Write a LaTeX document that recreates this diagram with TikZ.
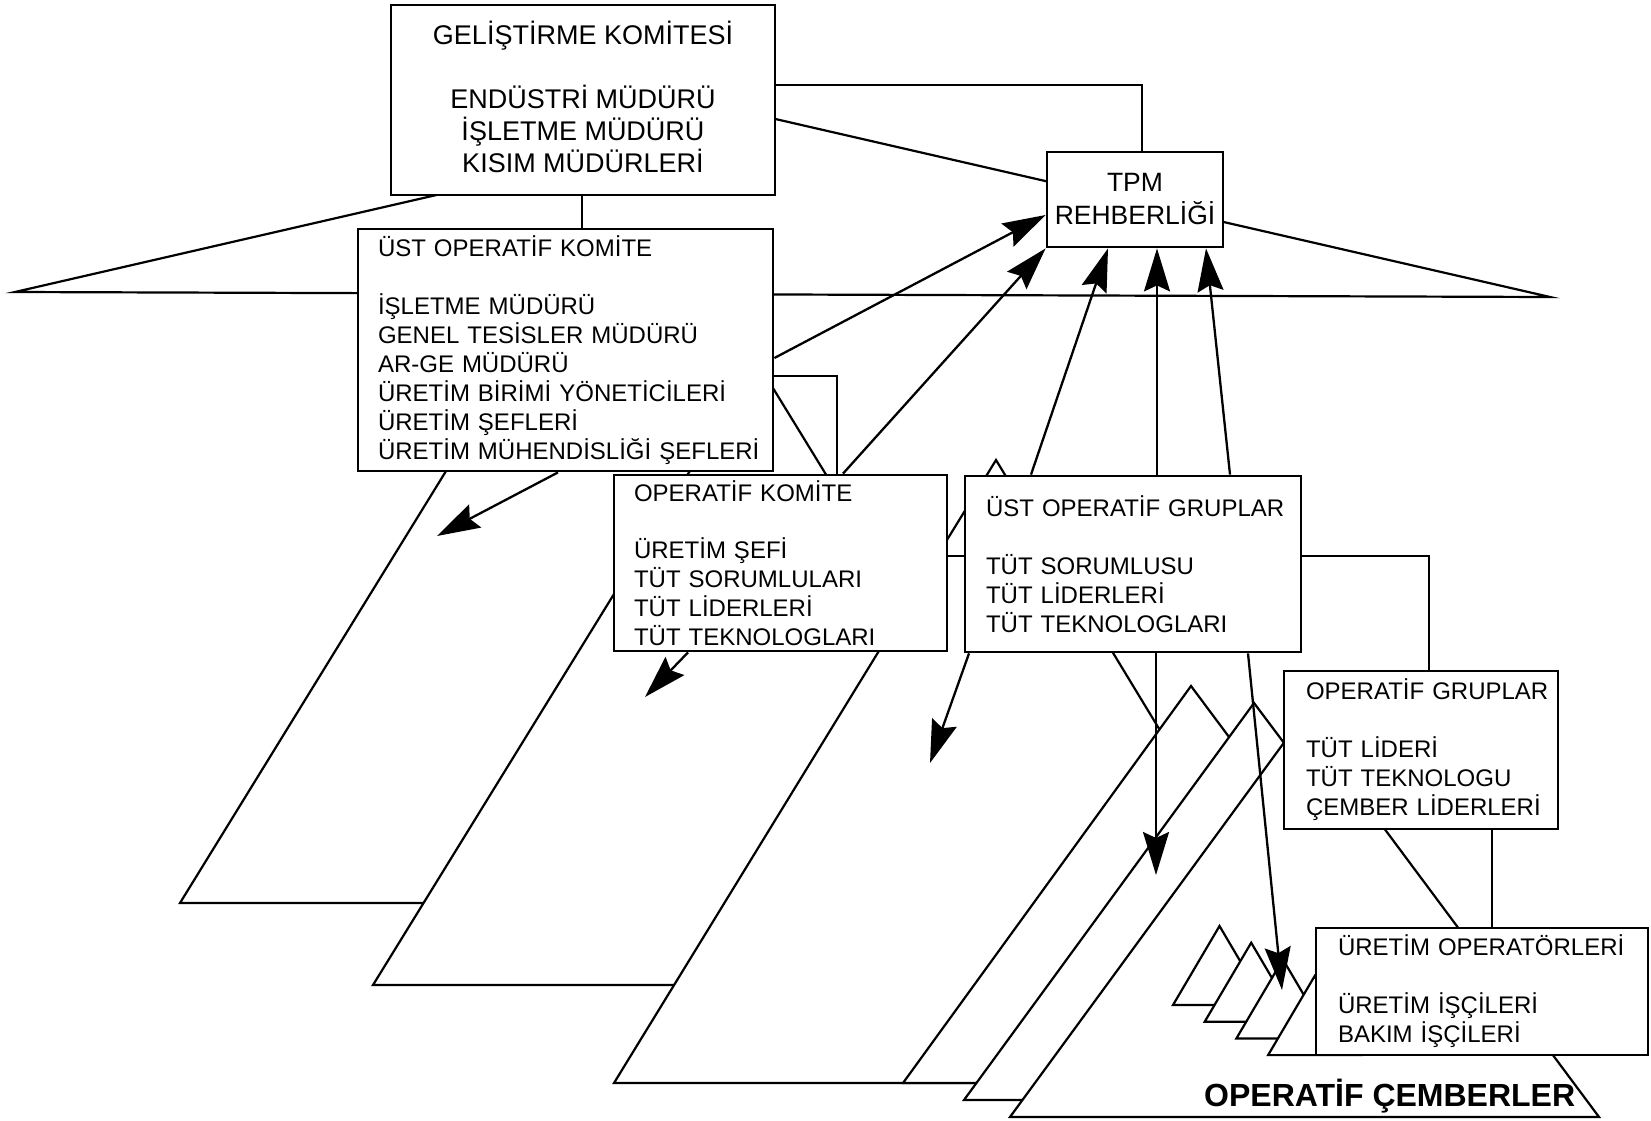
\documentclass[tikz,border=0pt]{standalone}
\usepackage{fontspec}
\setmainfont{Liberation Sans}
\usetikzlibrary{arrows.meta}
\hfuzz=60pt
\hbadness=10000
\hyphenpenalty=10000
\exhyphenpenalty=10000
\begin{document}
\begin{tikzpicture}[x=1pt,y=-1pt,
  layer/.style={draw, fill=white, line width=2.2pt, line join=miter},
  box/.style={draw, fill=white, line width=2.8pt, inner sep=0pt},
  txt/.style={font=\fontsize{24}{29}\selectfont, align=left},
  link/.style={line width=2pt},
  arr/.style={line width=2.3pt, -{Stealth[length=43pt,width=26pt,inset=6pt]}},
]
\useasboundingbox (0,0) rectangle (1651,1121);

% pyramid layers, drawn from back to front
\draw[layer] (771,118) -- (15,292) -- (1550,297) -- cycle;
\draw[layer] (576,260) -- (180,903) -- (954,903) -- cycle;
\draw[layer] (757,362) -- (373,985) -- (1139,985) -- cycle;
\draw[layer] (996,460) -- (614,1083) -- (1374,1083) -- cycle;
\draw[layer] (1191,686) -- (903,1083) -- (1487,1083) -- cycle;
\draw[layer] (1254,703) -- (964,1100) -- (1552,1100) -- cycle;
\draw[layer] (1302,718) -- (1010,1117) -- (1599,1117) -- cycle;
% small circles pyramids
\foreach \i in {0,1,2,3}{
  \draw[layer] ({1173+31.7*\i},{1005+16.7*\i}) -- ++(46.5,-79) -- ++(46.5,79) -- cycle;
}

% committee boxes
\node[box, minimum width=384pt, minimum height=190pt, align=center,
      font=\fontsize{27}{32}\selectfont, text depth=6pt] (gel) at (583,100)
  {GELİŞTİRME KOMİTESİ\\[32pt]ENDÜSTRİ MÜDÜRÜ\\İŞLETME MÜDÜRÜ\\KISIM MÜDÜRLERİ};
\node[box, minimum width=176pt, minimum height=95pt, align=center,
      font=\fontsize{26.5}{33}\selectfont] (tpm) at (1135,199.5)
  {TPM\\REHBERLİĞİ};
\node[box, txt, minimum width=415pt, minimum height=242pt, text width=375pt] (ust) at (565.5,350)
  {\mbox{ÜST OPERATİF KOMİTE}\\[29pt]İŞLETME MÜDÜRÜ\\\mbox{GENEL TESİSLER MÜDÜRÜ}\\AR-GE MÜDÜRÜ\\\mbox{ÜRETİM BİRİMİ YÖNETİCİLERİ}\\ÜRETİM ŞEFLERİ\\\mbox{ÜRETİM MÜHENDİSLİĞİ ŞEFLERİ}};
\node[box, txt, minimum width=333pt, minimum height=176pt, text width=293pt] (ok) at (780.5,563)
  {OPERATİF KOMİTE\\[28.5pt]ÜRETİM ŞEFİ\\TÜT SORUMLULARI\\TÜT LİDERLERİ\\TÜT TEKNOLOGLARI};
\node[box, txt, minimum width=336pt, minimum height=176pt, text width=294pt] (uog) at (1133,564)
  {\mbox{ÜST OPERATİF GRUPLAR}\\[29pt]TÜT SORUMLUSU\\TÜT LİDERLERİ\\TÜT TEKNOLOGLARI};
\node[box, txt, minimum width=274pt, minimum height=158pt, text width=230pt] (og) at (1421,750)
  {\mbox{OPERATİF GRUPLAR}\\[29pt]TÜT LİDERİ\\TÜT TEKNOLOGU\\\mbox{ÇEMBER LİDERLERİ}};
\node[box, txt, minimum width=332pt, minimum height=127pt, text width=288pt] (uo) at (1482,991.5)
  {\mbox{ÜRETİM OPERATÖRLERİ}\\[29pt]ÜRETİM İŞÇİLERİ\\BAKIM İŞÇİLERİ};

% plain links between the boxes
\draw[link] (gel.east |- 0,85) -| (1142,0 |- tpm.north);
\draw[link] (582,0 |- gel.south) -- (582,0 |- ust.north);
\draw[link] (ust.east |- 0,376) -| (837,0 |- ok.north);
\draw[link] (ok.east |- 0,556) -- (uog.west |- 0,556);
\draw[link] (uog.east |- 0,556) -| (1429,0 |- og.north);
\draw[link] (1492,0 |- og.south) -- (1492,0 |- uo.north);

% reporting arrows up to TPM guidance
\draw[arr] (ust.east |- 0,358) -- (tpm.west |- 0,215);
\draw[arr] (843,0 |- ok.north) -- (tpm.south west);
\draw[arr] (1031,0 |- uog.north) -- (1108,0 |- tpm.south);
\draw[arr] (1157,0 |- uog.north) -- (1157,0 |- tpm.south);
\draw[arr] (1230,0 |- uog.north) -- (1206,0 |- tpm.south);

% arrows down into the lower levels
\coordinate (d1) at (437,536);
\coordinate (d2) at (645,697);
\coordinate (d3) at (930,763);
\coordinate (d4) at (1156,875);
\coordinate (d5) at (1282,990);
\draw[arr] (558,0 |- ust.south) -- (d1);
\draw[arr] (688,0 |- ok.south) -- (d2);
\draw[arr] (969,0 |- uog.south) -- (d3);
\draw[arr] (1156,0 |- uog.south) -- (d4);
\draw[arr] (1248,0 |- uog.south) -- (d5);

\node[font=\bfseries\fontsize{32}{36}\selectfont, anchor=base west, inner sep=0pt] (cemb) at (1204,1106) {OPERATİF ÇEMBERLER};
\end{tikzpicture}
\end{document}
